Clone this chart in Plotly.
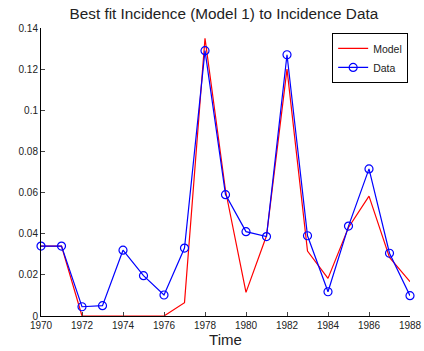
import plotly.graph_objects as go

years = list(range(1970, 1989))
data_vals = [0.034, 0.034, 0.0045, 0.005, 0.032, 0.0196, 0.0102, 0.033, 0.129,
             0.059, 0.041, 0.0386, 0.127, 0.039, 0.0118, 0.0437, 0.0715, 0.0305, 0.0099]
model_vals = [0.034, 0.034, 0.0, 0.0, 0.0, 0.0, 0.0, 0.0065, 0.135,
              0.061, 0.0115, 0.039, 0.12, 0.0316, 0.0183, 0.043, 0.0583, 0.0285, 0.0167]
x_ticks = list(range(1970, 1989, 2))
y_ticks = [0, 0.02, 0.04, 0.06, 0.08, 0.1, 0.12, 0.14]
y_labels = ["0", "0.02", "0.04", "0.06", "0.08", "0.1", "0.12", "0.14"]

fig = go.Figure()
fig.add_trace(go.Scatter(x=years, y=model_vals, mode="lines", name="Model",
                         line=dict(color="red", width=1.2), cliponaxis=False))
fig.add_trace(go.Scatter(x=years, y=data_vals, mode="lines+markers", name="Data",
                         line=dict(color="blue", width=1.2), cliponaxis=False,
                         marker=dict(symbol="circle-open", size=8, color="blue",
                                     line=dict(width=1.2, color="blue"))))

font = "Liberation Sans, Arial, sans-serif"
fig.update_layout(
    width=424, height=351,
    margin=dict(l=41, r=14, t=28, b=35, autoexpand=False),
    paper_bgcolor="white", plot_bgcolor="white",
    font=dict(family=font, size=10, color="#222"),
    title=dict(text="Best fit Incidence (Model 1) to Incidence Data",
               x=0.528, xanchor="center", y=1 - 14 / 351, yanchor="middle",
               font=dict(size=15.3, color="#222")),
    showlegend=True,
    legend=dict(x=0.995, xanchor="right", y=0.983, yanchor="top",
                bordercolor="black", borderwidth=1, bgcolor="white",
                font=dict(size=10.5), tracegroupgap=0, itemwidth=30),
)
fig.update_xaxes(range=[1970, 1988], tickvals=x_ticks, ticks="inside", ticklen=4,
                 showline=True, linecolor="black", linewidth=1, showgrid=False,
                 zeroline=False, automargin=False,
                 title=dict(text="Time", font=dict(size=15), standoff=3),
                 tickfont=dict(size=10))
fig.update_yaxes(range=[0, 0.14], tickvals=y_ticks, ticktext=y_labels, ticks="inside",
                 ticklen=4, showline=True, linecolor="black", linewidth=1,
                 showgrid=False, zeroline=False, automargin=False,
                 tickfont=dict(size=10))

fig.write_html("out.html",
               config={"displayModeBar": False},
               post_script="document.body.style.margin='0';"
                           "document.body.style.overflow='hidden';")
